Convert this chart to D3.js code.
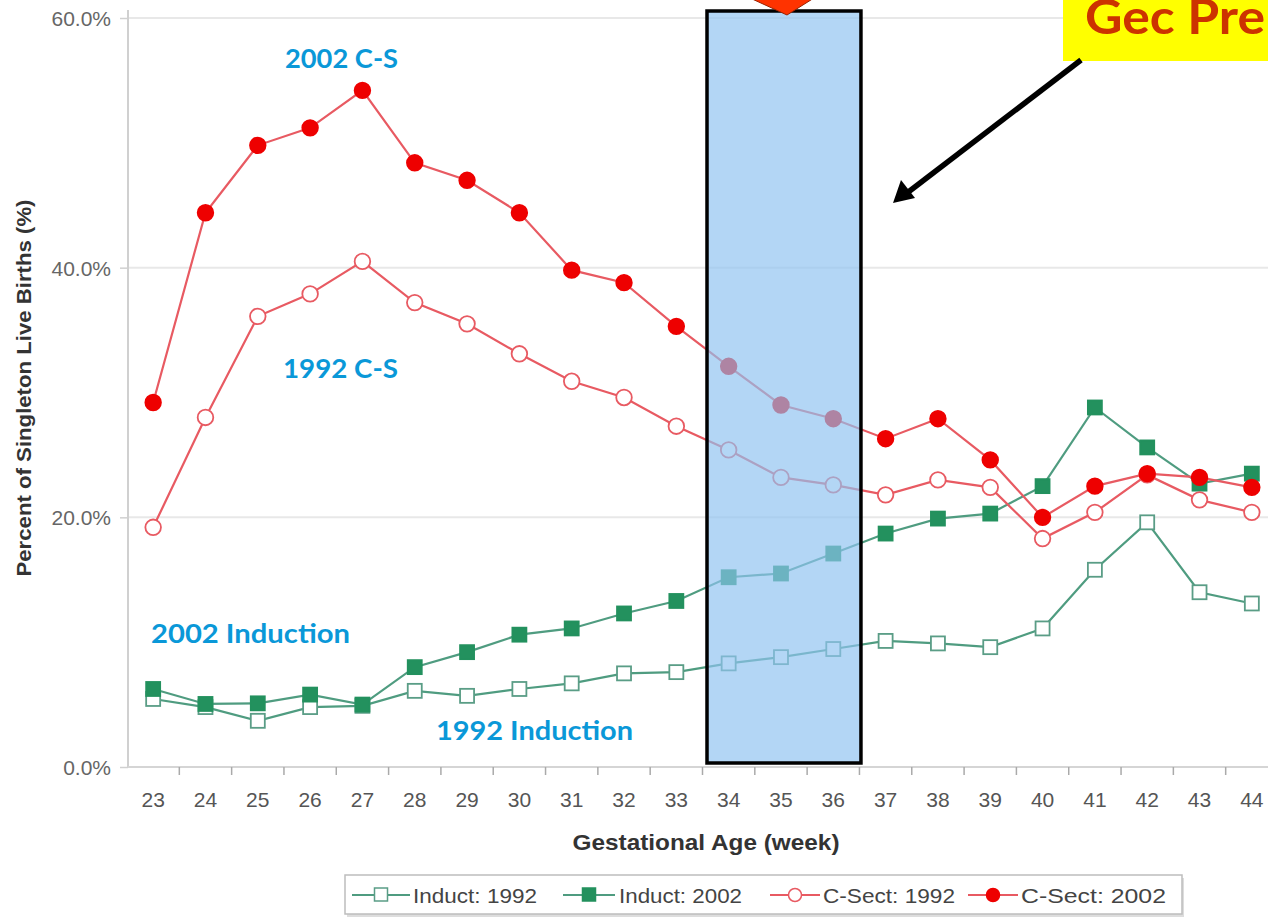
<!DOCTYPE html>
<html><head><meta charset="utf-8">
<script src="https://cdn.jsdelivr.net/npm/d3@7"></script>
<style>body{margin:0;background:#fff;}svg{display:block;}</style>
</head><body>
<script>
const weeks = [23,24,25,26,27,28,29,30,31,32,33,34,35,36,37,38,39,40,41,42,43,44];
const induct1992 = [5.45,4.8,3.7,4.8,4.9,6.1,5.7,6.25,6.7,7.5,7.6,8.3,8.8,9.45,10.1,9.9,9.6,11.1,15.8,19.6,14.0,13.1];
const induct2002 = [6.25,5.05,5.1,5.8,5.0,8.0,9.2,10.6,11.1,12.3,13.3,15.2,15.5,17.1,18.7,19.9,20.3,22.5,28.8,25.6,22.7,23.5];
const csect1992 = [19.2,28.0,36.1,37.9,40.5,37.2,35.5,33.1,30.9,29.6,27.3,25.4,23.2,22.6,21.8,23.0,22.4,18.3,20.4,23.4,21.4,20.4];
const csect2002 = [29.2,44.4,49.8,51.2,54.2,48.4,47.0,44.4,39.8,38.8,35.3,32.1,29.0,27.9,26.3,27.9,24.6,20.0,22.5,23.5,23.2,22.4];
const yTicks = [0,20,40,60];
const seriesNames = ["Induct: 1992","Induct: 2002","C-Sect: 1992","C-Sect: 2002"];
const highlightWeeks = [34,36];

const W=1268,H=920;
const svg=d3.select("body").append("svg").attr("width",W).attr("height",H);
const x=d3.scaleBand().domain(weeks).range([127,1278]);
const y=d3.scaleLinear().domain([0,60]).range([767,18]);
const cx=d=>x(d)+x.bandwidth()/2;
const AR="Liberation Sans, Arial, sans-serif";

// grid
svg.append("g").selectAll("line").data(yTicks.filter(t=>t>0)).join("line")
  .attr("x1",128).attr("x2",W).attr("y1",d=>y(d)).attr("y2",d=>y(d))
  .attr("stroke","#e8e8e8").attr("stroke-width",2);
// y axis
const ya=svg.append("g").attr("transform","translate(128,0)").call(d3.axisLeft(y).tickValues(yTicks).tickSize(8).tickFormat(d=>d3.format(".1f")(d)+"%"));
ya.select(".domain").attr("stroke","#d0d0d0").attr("stroke-width",2).attr("d","M0,10V767");
ya.selectAll(".tick line").attr("stroke","#d0d0d0").attr("stroke-width",1.5);
ya.selectAll("text").attr("font-family",AR).attr("font-size",21).attr("fill","#666").attr("x",-17).attr("dy","0.35em");
// x axis
const xa=svg.append("g").attr("transform","translate(0,767)").call(d3.axisBottom(x).tickSize(0).tickPadding(25));
xa.select(".domain").attr("stroke","#d5d5d5").attr("stroke-width",2).attr("d","M128,0H"+W);
xa.selectAll("text").attr("font-family",AR).attr("font-size",21).attr("fill","#555");
svg.append("g").selectAll("line").data(weeks.slice(1)).join("line")
  .attr("x1",d=>x(d)).attr("x2",d=>x(d)).attr("y1",767).attr("y2",775)
  .attr("stroke","#aaa").attr("stroke-width",1.5);

svg.append("text").attr("x",706).attr("y",850).attr("text-anchor","middle")
  .attr("font-family",AR).attr("font-weight","bold").attr("font-size",22).attr("fill","#333")
  .attr("textLength",267).attr("lengthAdjust","spacingAndGlyphs")
  .text("Gestational Age (week)");
svg.append("text").attr("transform","translate(31,388) rotate(-90)").attr("text-anchor","middle")
  .attr("font-family",AR).attr("font-weight","bold").attr("font-size",20).attr("fill","#333")
  .attr("textLength",377).attr("lengthAdjust","spacingAndGlyphs")
  .text("Percent of Singleton Live Births (%)");

const green="#4f9c80", greenFill="#23915e", red="#e85a62", redFill="#ee0000";
const line=d3.line().x((d,i)=>cx(weeks[i])).y(d=>y(d));
function drawSeries(vals,lineColor,marker,fill,stroke){
  svg.append("path").attr("d",line(vals)).attr("fill","none").attr("stroke",lineColor).attr("stroke-width",2.2);
  const g=svg.append("g");
  vals.forEach((v,i)=>{
    if(marker==="sq"){
      g.append("rect").attr("x",cx(weeks[i])-7).attr("y",y(v)-7).attr("width",14).attr("height",14)
        .attr("fill",fill).attr("stroke",stroke).attr("stroke-width",1.8);
    } else {
      g.append("circle").attr("cx",cx(weeks[i])).attr("cy",y(v)).attr("r",7.8)
        .attr("fill",fill).attr("stroke",stroke).attr("stroke-width",1.8);
    }
  });
}
drawSeries(induct1992,green,"sq","#fff","#5a9d86");
drawSeries(induct2002,green,"sq",greenFill,greenFill);
drawSeries(csect1992,red,"ci","#fff",red);
drawSeries(csect2002,red,"ci",redFill,redFill);

// highlight box
const hx0=x(highlightWeeks[0])+4.5, hx1=x(highlightWeeks[1])+x.bandwidth()+1.5;
svg.append("rect").attr("x",hx0).attr("y",11).attr("width",hx1-hx0).attr("height",752)
  .attr("fill","#8fc2f0").attr("fill-opacity",0.68).attr("stroke","#000").attr("stroke-width",3.5);
// orange arrow at top
svg.append("path").attr("d","M750,-2 L814,-2 L787,15 Z").attr("fill","#ff3300").attr("stroke","#992200").attr("stroke-width",1);

// annotation labels
const lab=(t,xx,yy,len)=>svg.append("text").attr("x",xx).attr("y",yy).text(t)
  .attr("font-family","Lato, Open Sans, sans-serif").attr("font-weight","bold").attr("font-size",27).attr("fill","#0a98d8")
  .attr("textLength",len).attr("lengthAdjust","spacingAndGlyphs");
lab("2002 C-S",285,68,113);
lab("1992 C-S",283,378,115);
lab("2002 Induction",151,643,199);
lab("1992 Induction",436,740,197);

// yellow callout
svg.append("rect").attr("x",1063).attr("y",-2).attr("width",220).attr("height",63).attr("fill","#ffff00");
svg.append("text").attr("x",1085).attr("y",34).text("Gec Pre")
  .attr("font-family","Lato, Open Sans, sans-serif").attr("font-weight","bold").attr("font-size",48).attr("fill","#cc3300")
  .attr("textLength",180).attr("lengthAdjust","spacingAndGlyphs");
// black arrow
svg.append("line").attr("x1",1081).attr("y1",60).attr("x2",907).attr("y2",193).attr("stroke","#000").attr("stroke-width",5.5);
svg.append("path").attr("d","M893,203 L901,180 L915,198 Z").attr("fill","#000");

// legend
const lg=svg.append("g");
lg.append("rect").attr("x",347).attr("y",878).attr("width",837).attr("height",39).attr("fill","#bbb").attr("opacity",0.5);
lg.append("rect").attr("x",345).attr("y",875).attr("width",837).attr("height",39).attr("fill","#fff").attr("stroke","#bdbdbd").attr("stroke-width",1.5);
const lgLine=[[352,410],[563,615],[770,820],[968,1018]];
const lgTextX=[413,619,823,1021];
const lgLen=[124,123,132,145];
const specs=[[green,"sq","#fff","#5a9d86"],[green,"sq",greenFill,greenFill],[red,"ci","#fff",red],[red,"ci",redFill,redFill]];
seriesNames.forEach((n,i)=>{
  const [a,b]=lgLine[i], mx=(a+b)/2, yy=895, [lc,m,f,s]=specs[i];
  lg.append("line").attr("x1",a).attr("x2",b).attr("y1",yy).attr("y2",yy).attr("stroke",lc).attr("stroke-width",2);
  if(m==="sq") lg.append("rect").attr("x",mx-6.5).attr("y",yy-7).attr("width",13).attr("height",13).attr("fill",f).attr("stroke",s).attr("stroke-width",1.5);
  else lg.append("circle").attr("cx",mx).attr("cy",yy).attr("r",6.5).attr("fill",f).attr("stroke",s).attr("stroke-width",1.5);
  lg.append("text").attr("x",lgTextX[i]).attr("y",yy+7.5).text(n).attr("font-family",AR).attr("font-size",21).attr("fill","#444")
    .attr("textLength",lgLen[i]).attr("lengthAdjust","spacingAndGlyphs");
});
</script>
</body></html>
